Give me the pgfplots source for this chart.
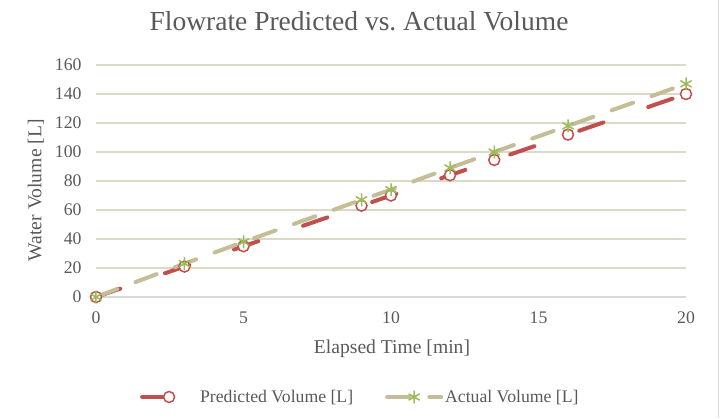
\documentclass[border=0pt]{standalone}
\usepackage{pgfplots}
\pgfplotsset{compat=1.18}
\usepackage{fontspec}
\setmainfont{Liberation Serif}
\frenchspacing
\definecolor{txt}{HTML}{595959}
\definecolor{gridc}{HTML}{DADAC6}
\definecolor{axc}{HTML}{D9D9D9}
\definecolor{predc}{HTML}{C0504D}
\definecolor{actc}{HTML}{C4BD97}
\definecolor{starc}{HTML}{9BBB59}
\begin{document}
\begin{tikzpicture}
\path[use as bounding box] (-96pt,-121pt) rectangle (627pt,297pt);
\draw[axc, line width=1pt] (622pt,-121pt) -- (622pt,297pt);
\begin{axis}[
  scale only axis,
  width=590pt, height=232pt,
  xmin=0, xmax=20, ymin=0, ymax=160,
  xtick={0,5,10,15,20},
  ytick={0,20,...,160},
  axis x line=bottom, axis y line=left,
  x axis line style={-, draw=axc, line width=1.2pt},
  y axis line style={draw=none},
  major tick length=0pt,
  tick style={draw=none},
  ymajorgrids,
  grid style={gridc, line width=1.3pt},
  /pgf/number format/assume math mode=true,
  ticklabel style={font=\fontsize{17.7}{20}\selectfont, text=txt},
  xticklabel style={yshift=-11pt},
  yticklabel style={xshift=-11pt},
  title={Flowrate Predicted vs. Actual Volume},
  title style={font=\fontsize{27.5}{32}\selectfont, text=txt, at={(axis description cs:0.4458,1.164)}, anchor=center},
  xlabel={Elapsed Time [min]},
  xlabel style={font=\fontsize{19.6}{23}\selectfont, text=txt, at={(axis description cs:0.5017,-0.224)}, anchor=center},
  ylabel={Water Volume [L]},
  ylabel style={font=\fontsize{19.6}{23}\selectfont, text=txt, at={(axis description cs:-0.1017,0.46)}, anchor=center},
  legend columns=2,
  legend style={at={(axis description cs:0.448,-0.431)}, anchor=center, draw=none, fill=none,
    font=\fontsize{17.7}{20}\selectfont, text=txt,
    /tikz/every even column/.append style={column sep=30pt}},
  legend image code/.code={%
    \draw[#1, mark repeat=2, mark phase=2] plot coordinates {(0pt,0pt) (27pt,0pt) (54pt,0pt)};},
]
\addplot[predc, line width=4pt, line cap=round, dash pattern=on 25.6pt off 47.4pt,
  mark=*, mark size=5.5pt, mark options={solid, fill=white, draw=predc, line width=1.5pt}]
  coordinates {(0,0) (3,21) (5,35) (9,63) (10,70) (12,84) (13.5,94.5) (16,112) (20,140)};
\addlegendentry{Predicted Volume [L]}
\addplot[actc, line width=4pt, line cap=round, dash pattern=on 22.6pt off 19.6pt,
  mark=asterisk, mark size=6pt, mark options={solid, draw=starc, line width=1.5pt}]
  coordinates {(0,0) (3,23) (5,38) (9,67) (10,74) (12,89) (13.5,100) (16,118) (20,147)};
\addlegendentry{Actual Volume [L]}
\end{axis}
\end{tikzpicture}
\end{document}
